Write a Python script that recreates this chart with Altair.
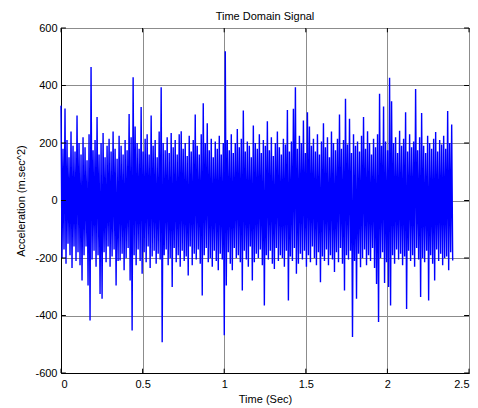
import altair as alt
import pandas as pd

# Upper and lower swing of the signal left to right
UPPER = [330, 180, 320, 210, 150, 240, 190, 170, 296, 200,
         160, 220, 185, 140, 230, 464, 175, 210, 290, 160,
         200, 235, 150, 190, 215, 170, 240, 180, 145, 225,
         190, 160, 210, 175, 301, 220, 429, 257, 200, 180,
         325, 170, 215, 230, 160, 296, 190, 210, 150, 240,
         394, 200, 175, 220, 165, 235, 185, 210, 160, 230,
         241, 180, 200, 155, 225, 170, 210, 299, 190, 160,
         230, 338, 200, 269, 175, 215, 150, 205, 180, 225,
         160, 200, 519, 210, 175, 230, 165, 200, 249, 185,
         215, 313, 170, 205, 190, 150, 261, 200, 180, 230,
         165, 210, 190, 276, 175, 220, 155, 200, 240, 185,
         160, 215, 195, 315, 170, 205, 319, 394, 180, 225,
         200, 278, 165, 307, 257, 190, 215, 170, 230, 160,
         205, 269, 185, 220, 150, 240, 200, 175, 215, 299,
         180, 210, 354, 195, 284, 165, 230, 190, 205, 170,
         225, 290, 180, 241, 200, 160, 215, 185, 230, 371,
         190, 327, 205, 175, 427, 345, 200, 220, 165, 243,
         190, 215, 307, 170, 230, 185, 205, 388, 175, 220,
         304, 190, 165, 225, 200, 180, 215, 238, 170, 210,
         195, 225, 180, 311, 200, 264]

LOWER = [-200, -170, -220, -150, -190, -235, -160, -210, -180, -225,
         -278, -190, -160, -296, -417, -205, -175, -230, -190, -325,
         -342, -180, -215, -160, -230, -195, -170, -296, -210, -209,
         -185, -243, -200, -165, -278, -452, -190, -225, -170, -210,
         -255, -180, -215, -160, -235, -195, -175, -220, -185, -205,
         -493, -190, -170, -225, -200, -301, -165, -215, -190, -230,
         -175, -210, -195, -261, -160, -225, -185, -205, -170, -220,
         -330, -190, -165, -215, -200, -230, -175, -210, -243, -185,
         -205, -469, -296, -180, -220, -243, -165, -200, -190, -215,
         -313, -175, -205, -230, -160, -278, -215, -185, -200, -170,
         -225, -365, -190, -205, -175, -220, -238, -165, -210, -190,
         -200, -230, -175, -348, -195, -210, -165, -255, -220, -185,
         -205, -175, -230, -190, -215, -160, -200, -225, -180, -284,
         -195, -210, -170, -225, -190, -205, -249, -180, -215, -165,
         -220, -313, -190, -205, -175, -475, -210, -342, -185, -232,
         -200, -170, -225, -190, -210, -165, -235, -290, -423, -200,
         -180, -287, -215, -301, -365, -190, -220, -170, -205, -185,
         -225, -195, -377, -175, -210, -190, -230, -165, -205, -336,
         -200, -215, -175, -348, -190, -220, -278, -170, -210, -185,
         -225, -200, -195, -243, -180, -209]

T_END = 2.4
X_TICKS = [0, 0.5, 1, 1.5, 2, 2.5]
Y_TICKS = [-600, -400, -200, 0, 200, 400, 600]
X_DOMAIN = [0, 2.5]
Y_DOMAIN = [-600, 600]

vals = []
for u, l in zip(UPPER, LOWER):
    vals += [u, l]
n = len(vals)
sig = pd.DataFrame({"t": [T_END * k / (n - 1) for k in range(n)], "a": vals})

FONT = "Liberation Sans"
xs = alt.Scale(domain=X_DOMAIN, nice=False, zero=False)
ys = alt.Scale(domain=Y_DOMAIN, nice=False, zero=False)
X_AXIS = alt.Axis(values=X_TICKS, title="Time (Sec)", grid=True,
                  labelExpr="'' + datum.value", titlePadding=4, labelPadding=5)
Y_AXIS = alt.Axis(values=Y_TICKS, title="Acceleration (m.sec^2)", grid=True,
                  labelExpr="'' + datum.value", titlePadding=8, labelPadding=4)

line = alt.Chart(sig).mark_line(color="#0000ff", strokeWidth=1.4).encode(
    x=alt.X("t:Q", scale=xs, axis=X_AXIS),
    y=alt.Y("a:Q", scale=ys, axis=Y_AXIS),
    order="t:Q",
)

# inward tick marks on the four sides of the box
xt_bot = pd.DataFrame({"t": X_TICKS, "a": [-600] * 6, "a2": [-585] * 6})
xt_top = pd.DataFrame({"t": X_TICKS, "a": [600] * 6, "a2": [585] * 6})
yt_left = pd.DataFrame({"a": Y_TICKS, "t": [0] * 7, "t2": [0.03] * 7})
yt_right = pd.DataFrame({"a": Y_TICKS, "t": [2.5] * 7, "t2": [2.47] * 7})

def vticks(df):
    return alt.Chart(df).mark_rule(color="black", strokeWidth=1).encode(
        x=alt.X("t:Q", scale=xs, axis=X_AXIS),
        y=alt.Y("a:Q", scale=ys, axis=Y_AXIS),
        y2="a2:Q",
    )

def hticks(df):
    return alt.Chart(df).mark_rule(color="black", strokeWidth=1).encode(
        x=alt.X("t:Q", scale=xs, axis=X_AXIS),
        x2="t2:Q",
        y=alt.Y("a:Q", scale=ys, axis=Y_AXIS),
    )

chart = alt.layer(
    line, vticks(xt_bot), vticks(xt_top), hticks(yt_left), hticks(yt_right)
).properties(
    width=408,
    height=345,
    title=alt.TitleParams("Time Domain Signal", font=FONT, fontSize=11,
                          fontWeight="normal", color="black", offset=0,
                          frame="group"),
    autosize=alt.AutoSizeParams(type="none"),
    padding={"left": 53, "top": 20, "right": 1, "bottom": 34},
).configure_view(
    stroke="black", strokeWidth=1
).configure_axis(
    labelFont=FONT, labelFontSize=11, labelColor="black",
    titleFont=FONT, titleFontSize=11, titleFontWeight="normal", titleColor="black",
    domainColor="black", domainWidth=1, ticks=False,
    gridColor="#8c8c8c", gridWidth=1, gridOpacity=1,
)

chart.save("out.html", embed_options={"renderer": "svg", "actions": False})
